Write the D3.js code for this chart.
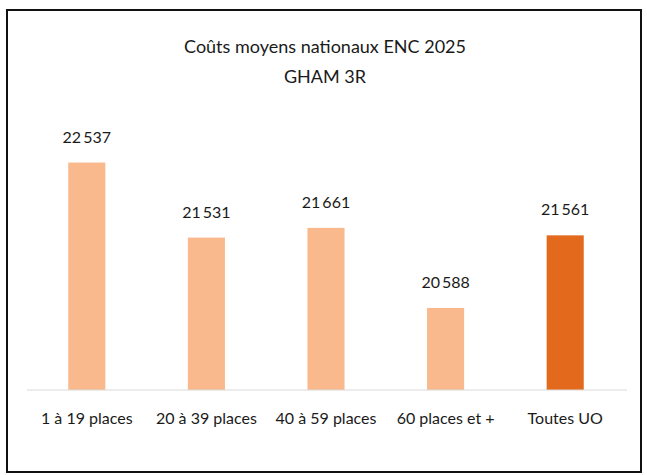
<!DOCTYPE html>
<html lang="fr">
<head>
<meta charset="UTF-8">
<title>Coûts moyens nationaux ENC 2025</title>
<script src="https://cdn.jsdelivr.net/npm/d3@7/dist/d3.min.js"></script>
<style>
  body { margin: 0; background: #fff; }
  text { font-family: Lato, "Open Sans", sans-serif; fill: #1a1a1a; }
</style>
</head>
<body>
<svg id="chart" width="647" height="475"></svg>
<script>
var categories = ["1 à 19 places", "20 à 39 places", "40 à 59 places", "60 places et +", "Toutes UO"];
var values = [22537, 21531, 21661, 20588, 21561];
var barColors = ["#f9b98c", "#f9b98c", "#f9b98c", "#f9b98c", "#e3691c"];
var titleLines = ["Coûts moyens nationaux ENC 2025", "GHAM 3R"];

var svg = d3.select("#chart");

// frame
svg.append("rect")
  .attr("x", 7).attr("y", 10)
  .attr("width", 634).attr("height", 462)
  .attr("fill", "none").attr("stroke", "#111").attr("stroke-width", 2);

var x = d3.scaleBand().domain(categories).range([27, 625]).paddingInner(0.69).paddingOuter(0.345);
var y = d3.scaleLinear().domain([19488, 23000]).range([390, 128]);

svg.selectAll("text.title")
  .data(titleLines)
  .enter().append("text")
  .attr("class", "title")
  .attr("x", 325)
  .attr("y", function(d, i) { return 53 + i * 30; })
  .attr("text-anchor", "middle")
  .style("font-size", "18px")
  .text(function(d) { return d; });

svg.selectAll("rect.bar")
  .data(values)
  .enter().append("rect")
  .attr("class", "bar")
  .attr("x", function(d, i) { return x(categories[i]); })
  .attr("y", function(d) { return y(d); })
  .attr("width", x.bandwidth())
  .attr("height", function(d) { return y.range()[0] - y(d); })
  .attr("fill", function(d, i) { return barColors[i]; });

// baseline
svg.append("line")
  .attr("x1", 27).attr("x2", 627)
  .attr("y1", y.range()[0]).attr("y2", y.range()[0])
  .attr("stroke", "#d9d9d9").attr("stroke-width", 1);

var fmt = function(v) { return d3.format(",")(v).replace(",", "\u2009"); };

svg.selectAll("text.val")
  .data(values)
  .enter().append("text")
  .attr("class", "val")
  .attr("x", function(d, i) { return x(categories[i]) + x.bandwidth() / 2; })
  .attr("y", function(d) { return y(d) - 20; })
  .attr("text-anchor", "middle")
  .style("font-size", "16px")
  .text(fmt);

var xAxis = svg.append("g")
  .attr("transform", "translate(0," + y.range()[0] + ")")
  .call(d3.axisBottom(x).tickSize(0).tickPadding(23));
xAxis.select(".domain").remove();
xAxis.selectAll("text")
  .style("font-size", "16px")
  .style("font-family", "Lato, 'Open Sans', sans-serif")
  .attr("fill", "#1a1a1a");
</script>
</body>
</html>
